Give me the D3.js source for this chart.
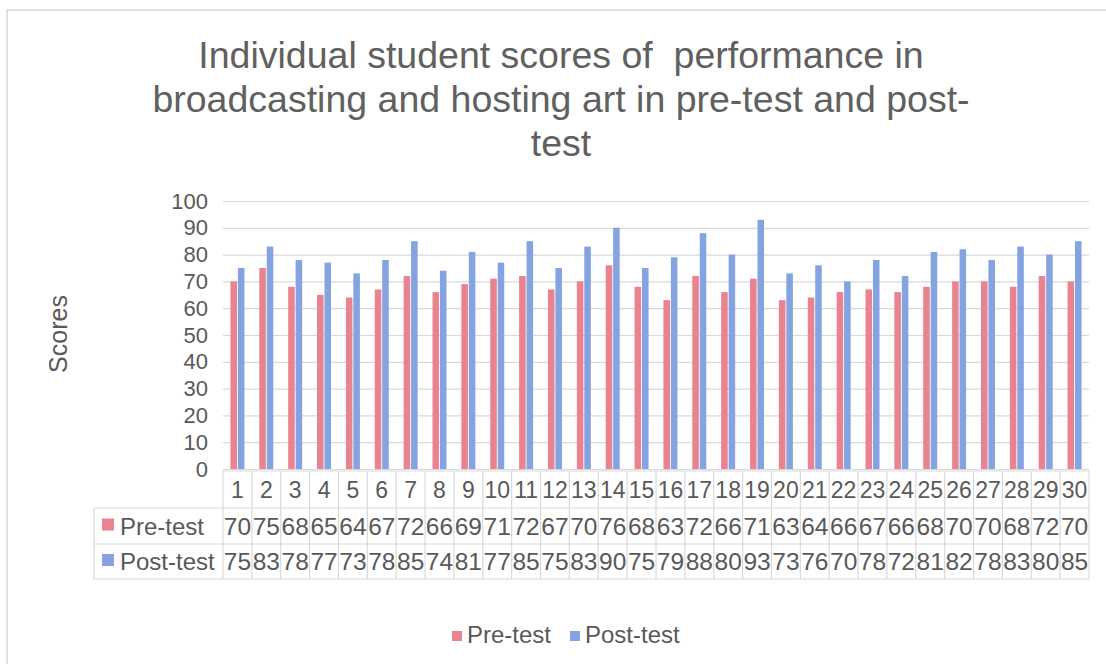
<!DOCTYPE html>
<html>
<head>
<meta charset="utf-8">
<script src="https://cdn.jsdelivr.net/npm/d3@7"></script>
<style>
  html, body { margin: 0; padding: 0; background: #fff; }
  svg { display: block; font-family: "Liberation Sans", Arial, sans-serif; }
  text { white-space: pre; }
</style>
</head>
<body>
<svg id="chart" width="1106" height="664"></svg>
<script>
const students = d3.range(1, 31).map(String);
const preTest = [70, 75, 68, 65, 64, 67, 72, 66, 69, 71, 72, 67, 70, 76, 68, 63, 72, 66, 71, 63, 64, 66, 67, 66, 68, 70, 70, 68, 72, 70];
const postTest = [75, 83, 78, 77, 73, 78, 85, 74, 81, 77, 85, 75, 83, 90, 75, 79, 88, 80, 93, 73, 76, 70, 78, 72, 81, 82, 78, 83, 80, 85];
const seriesNames = ["Pre-test", "Post-test"];
const yTicks = [0, 10, 20, 30, 40, 50, 60, 70, 80, 90, 100];
const titleLines = [
  "Individual student scores of  performance in",
  "broadcasting and hosting art in pre-test and post-",
  "test"
];

const colors = { "Pre-test": "#e9838f", "Post-test": "#84a4e1" };
const textColor = "#595959";
const gridColor = "#d9d9d9";

const svg = d3.select("#chart");
const plot = { left: 223, right: 1089, top: 201, bottom: 469 };

// outer frame
svg.append("rect")
  .attr("x", 7).attr("y", 10)
  .attr("width", 1200).attr("height", 800)
  .attr("fill", "none")
  .attr("stroke", "#e0e0e0")
  .attr("stroke-width", 2);

// title
svg.append("g")
  .selectAll("text")
  .data(titleLines)
  .join("text")
  .attr("x", 561)
  .attr("y", (d, i) => 68 + i * 44)
  .attr("text-anchor", "middle")
  .attr("font-size", 37.5)
  .attr("fill", "#606060")
  .text(d => d);

const x = d3.scaleBand().domain(students).range([plot.left, plot.right]).padding(0);
const bw = x.bandwidth();
const x1 = d3.scaleBand().domain(seriesNames).range([bw / 2 - 7, bw / 2 + 7]).paddingInner(0.12);
const y = d3.scaleLinear().domain([0, 100]).range([plot.bottom, plot.top]);

// grid lines
svg.append("g")
  .attr("transform", `translate(${plot.left},0)`)
  .call(d3.axisLeft(y).tickValues(yTicks).tickSize(-(plot.right - plot.left)).tickFormat(""))
  .call(g => g.select(".domain").remove())
  .call(g => g.selectAll("line").attr("stroke", gridColor).attr("stroke-width", 1.2));

// y tick labels
svg.append("g")
  .attr("transform", "translate(208,0)")
  .call(d3.axisLeft(y).tickValues(yTicks).tickSize(0).tickPadding(0))
  .call(g => g.select(".domain").remove())
  .call(g => g.selectAll("text")
    .attr("font-size", 22)
    .attr("font-family", "Liberation Sans, Arial, sans-serif")
    .attr("fill", textColor));

// y axis title
svg.append("text")
  .attr("transform", "translate(67,334) rotate(-90)")
  .attr("text-anchor", "middle")
  .attr("font-size", 25)
  .attr("fill", textColor)
  .text("Scores");

// bars
const rows = students.map((s, i) => ({ student: s, "Pre-test": preTest[i], "Post-test": postTest[i] }));
svg.append("g")
  .selectAll("g")
  .data(rows)
  .join("g")
  .attr("transform", d => `translate(${x(d.student)},0)`)
  .selectAll("rect")
  .data(d => seriesNames.map(k => ({ key: k, value: d[k] })))
  .join("rect")
  .attr("x", d => x1(d.key))
  .attr("width", x1.bandwidth())
  .attr("y", d => y(d.value))
  .attr("height", d => y(0) - y(d.value))
  .attr("fill", d => colors[d.key]);

// data table
const rowY = [471, 508, 544, 579];
const tableLeft = 94;
const table = svg.append("g");
const border = (ax, ay, bx, by) => table.append("line")
  .attr("x1", ax).attr("y1", ay).attr("x2", bx).attr("y2", by)
  .attr("stroke", gridColor).attr("stroke-width", 1.2);

border(plot.left, rowY[0], plot.right, rowY[0]);
border(tableLeft, rowY[1], plot.right, rowY[1]);
border(tableLeft, rowY[2], plot.right, rowY[2]);
border(tableLeft, rowY[3], plot.right, rowY[3]);
border(tableLeft, rowY[1], tableLeft, rowY[3]);
students.forEach(s => border(x(s), rowY[0], x(s), rowY[3]));
border(plot.right, rowY[0], plot.right, rowY[3]);

// header row: student numbers
table.append("g")
  .selectAll("text")
  .data(students)
  .join("text")
  .attr("x", d => x(d) + bw / 2)
  .attr("y", (rowY[0] + rowY[1]) / 2 + 8)
  .attr("text-anchor", "middle")
  .attr("font-size", 23)
  .attr("fill", textColor)
  .text(d => d);

// value rows
[preTest, postTest].forEach((vals, r) => {
  const cy = (rowY[r + 1] + rowY[r + 2]) / 2 + 8.5;
  table.append("g")
    .selectAll("text")
    .data(vals)
    .join("text")
    .attr("x", (d, i) => x(students[i]) + bw / 2)
    .attr("y", cy)
    .attr("text-anchor", "middle")
    .attr("font-size", 24.5)
    .attr("fill", textColor)
    .text(d => d);

  table.append("rect")
    .attr("x", 102).attr("y", cy - 16)
    .attr("width", 12).attr("height", 12)
    .attr("fill", colors[seriesNames[r]]);
  table.append("text")
    .attr("x", 120).attr("y", cy)
    .attr("font-size", 24)
    .attr("fill", textColor)
    .text(seriesNames[r]);
});

// legend
const legend = svg.append("g").attr("transform", "translate(452,643)");
const items = [
  { name: "Pre-test", x: 0 },
  { name: "Post-test", x: 118 }
];
items.forEach(it => {
  legend.append("rect")
    .attr("x", it.x).attr("y", -12)
    .attr("width", 10).attr("height", 10)
    .attr("fill", colors[it.name]);
  legend.append("text")
    .attr("x", it.x + 15).attr("y", 0)
    .attr("font-size", 24)
    .attr("fill", textColor)
    .text(it.name);
});
</script>
</body>
</html>
